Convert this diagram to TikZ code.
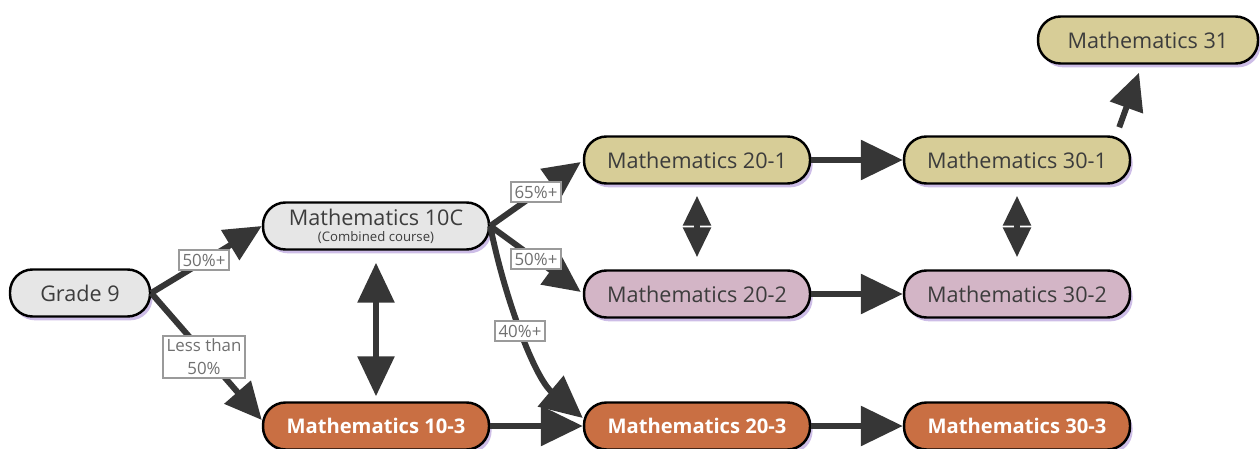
\documentclass[tikz,border=0pt]{standalone}
\usepackage{fontspec}
\setmainfont{Open Sans}
\usetikzlibrary{arrows.meta,shadows}
\definecolor{grayfill}{HTML}{E6E6E6}
\definecolor{tanfill}{HTML}{D7CD97}
\definecolor{mauvefill}{HTML}{D3B5C6}
\definecolor{orngfill}{HTML}{C96F43}
\definecolor{txtc}{HTML}{3C3C3C}
\definecolor{arrc}{HTML}{363636}
\definecolor{shadc}{HTML}{C8B6E4}
\definecolor{lblb}{HTML}{9A9A9A}
\definecolor{lblt}{HTML}{707070}
\begin{document}
\begin{tikzpicture}[x=0.02cm,y=-0.02cm,
  course/.style={draw=black, line width=1.4pt, rounded corners=0.45cm,
    minimum width=4.52cm, minimum height=0.94cm, inner sep=1pt, text=txtc,
    font=\fontsize{12.3}{13}\selectfont, align=center,
    drop shadow={shadow xshift=1.5pt, shadow yshift=-2.2pt, fill=shadc, opacity=0.9}},
  lowcourse/.style={course, fill=orngfill, text=white, font=\fontsize{11.5}{13}\selectfont\bfseries},
  lbl/.style={draw=lblb, line width=1.2pt, fill=white, text=lblt, inner xsep=2pt, inner ysep=2pt,
    font=\fontsize{9.6}{13}\selectfont, align=center},
  flow/.style={line width=3.4pt, draw=arrc, -{Triangle[length=0.84cm,width=0.78cm]}},
  flowsmall/.style={line width=3.4pt, draw=arrc, -{Triangle[length=0.74cm,width=0.68cm]}},
  both/.style={line width=3.4pt, draw=arrc, {Triangle[length=0.8cm,width=0.72cm]}-{Triangle[length=0.8cm,width=0.72cm]}},
  bothsmall/.style={line width=3.4pt, draw=arrc, {Triangle[length=0.6cm,width=0.54cm]}-{Triangle[length=0.6cm,width=0.54cm]}}
]
\useasboundingbox (0,0) rectangle (1260,449);

% nodes
\node[course, fill=grayfill, minimum width=2.8cm] (g9) at (80,293) {Grade 9};
\node[course, fill=grayfill] (m10c) at (376,226) {Mathematics 10C\\[-4pt]{\fontsize{7.5}{8}\selectfont(Combined course)}};
\node[lowcourse] (m103) at (376,426) {Mathematics 10-3};
\node[course, fill=tanfill] (m201) at (697,160) {Mathematics 20-1};
\node[course, fill=mauvefill] (m202) at (697,294) {Mathematics 20-2};
\node[lowcourse] (m203) at (697,426) {Mathematics 20-3};
\node[course, fill=tanfill] (m301) at (1017,160) {Mathematics 30-1};
\node[course, fill=mauvefill] (m302) at (1017,294) {Mathematics 30-2};
\node[lowcourse] (m303) at (1017,426) {Mathematics 30-3};
\node[course, fill=tanfill, minimum width=4.4cm] (m31) at (1148,40) {Mathematics 31};

% connectors
\draw[flowsmall] (g9.east) -- (m10c.west);
\draw[flowsmall] (g9.east) -- ([shift={(0,-6)}]m103.west);
\draw[both, shorten <=0.24cm, shorten >=0.1cm] (m10c.south) -- (m103.north);
\draw[flowsmall] (m10c.east) -- ([shift={(-2,2)}]m201.west);
\draw[flowsmall] (m10c.east) -- ([shift={(-2,-2)}]m202.west);
\draw[flow] (m10c.east) .. controls (505,300) and (535,378) .. ([shift={(0,-8)}]m203.west);
\draw[flow] (m103.east) -- (m203.west);
\draw[flow] (m201.east) -- (m301.west);
\draw[flow] (m202.east) -- (m302.west);
\draw[flow] (m203.east) -- (m303.west);
\draw[bothsmall, shorten <=0.22cm, shorten >=0.24cm] (m201.south) -- (m202.north);
\draw[bothsmall, shorten <=0.22cm, shorten >=0.24cm] (m301.south) -- (m302.north);
\draw[flowsmall] ([shift={(-12,-8)}]m301.north east) -- ([shift={(-9,8)}]m31.south);

% labels
\node[lbl] (l1) at (204,260) {50\%+};
\node[lbl] (l2) at (204,357) {Less than\\50\%};
\node[lbl] (l3) at (536,192) {65\%+};
\node[lbl] (l4) at (536,259) {50\%+};
\node[lbl] (l5) at (520,331) {40\%+};
\end{tikzpicture}
\end{document}
